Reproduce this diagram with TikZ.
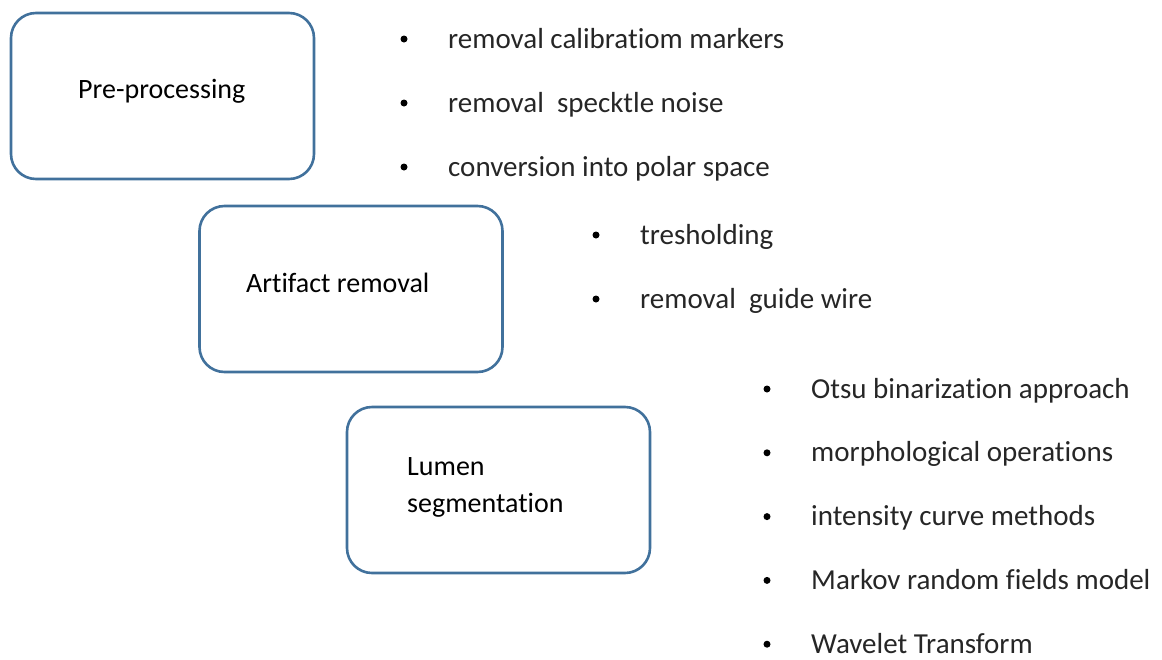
\documentclass[tikz,border=0pt]{standalone}
\usepackage{fontspec}
\setmainfont{Carlito}[Ligatures = NoCommon]
\usetikzlibrary{positioning}
\definecolor{stageblue}{HTML}{41719C}
\definecolor{itemgray}{HTML}{262626}
\tikzset{
    stage/.style = {draw = stageblue, line width = 2.6pt, rounded corners = 25pt,
                    minimum width = 303pt, minimum height = 166pt, inner sep = 0pt},
    stagetext/.style = {anchor = base west, inner sep = 0pt,
                        font = \fontsize{28}{37}\selectfont},
    itemtext/.style = {anchor = base west, inner sep = 0pt, text = itemgray,
                       font = \fontsize{29}{34}\selectfont},
    dot/.style = {circle, fill = black, inner sep = 0pt, minimum size = 7pt}
}
\begin{document}
\begin{tikzpicture}[x = 1pt, y = -1pt]
    \useasboundingbox (0,0) rectangle (1162,659);
    % Passo 1: pre-processing
    \node[stage] (pre) at (162.5,96) {};
    \node[stagetext] (pre-t) at (78,98) {Pre-processing};
    \foreach \txt [count = \i] in {removal calibratiom markers,
                                   removal~ specktle noise,
                                   conversion into polar space}{
        \pgfmathsetmacro{\yb}{48+64*(\i-1)}
        \node[dot] (pre-d\i) at (404,\yb-9) {};
        \node[itemtext] (pre-i\i) at (448,\yb) {\txt};
    }
    % Passo 2: artifact removal
    \node[stage] (art) at (351,289) {};
    \node[stagetext] (art-t) at (246,292) {Artifact removal};
    \foreach \txt [count = \i] in {tresholding, removal~ guide wire}{
        \pgfmathsetmacro{\yb}{244+64*(\i-1)}
        \node[dot] (art-d\i) at (596,\yb-9) {};
        \node[itemtext] (art-i\i) at (640,\yb) {\txt};
    }
    % Passo 3: lumen segmentation
    \node[stage] (lum) at (498.5,490) {};
    \node[stagetext] (lum-t1) at (407,475) {Lumen};
    \node[stagetext] (lum-t2) at (407,512) {segmentation};
    \foreach \txt [count = \i] in {Otsu binarization approach,
                                   morphological operations,
                                   intensity curve methods,
                                   Markov random fields model,
                                   Wavelet Transform}{
        \pgfmathsetmacro{\yb}{398+63.8*(\i-1)}
        \node[dot] (lum-d\i) at (767,\yb-9) {};
        \node[itemtext] (lum-i\i) at (811,\yb) {\txt};
    }
\end{tikzpicture}
\end{document}
